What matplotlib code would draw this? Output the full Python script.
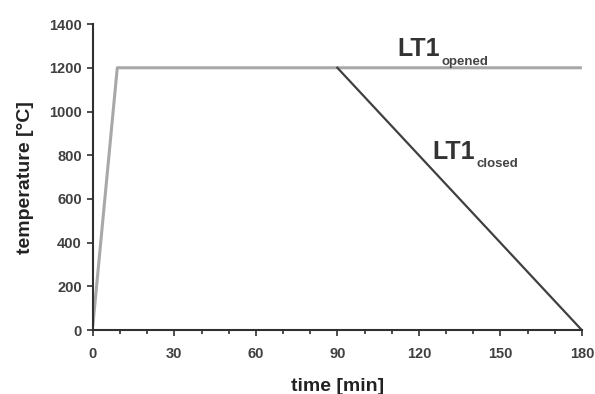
import matplotlib
matplotlib.use("Agg")
import matplotlib.pyplot as plt
from matplotlib.ticker import MultipleLocator

# data
time_opened = [0, 9, 180]
temp_opened = [20, 1200, 1200]
time_closed = [90, 180]
temp_closed = [1200, 0]

plt.rcParams['font.family'] = ['Liberation Sans', 'DejaVu Sans']
plt.rcParams['font.weight'] = 'bold'

fig = plt.figure(figsize=(5.95, 3.94), dpi=100)
ax = fig.add_axes([0.156, 0.162, 0.822, 0.777])

ax.plot(time_opened, temp_opened, color='#a8a8a8', lw=2.2, solid_capstyle='butt')
ax.plot(time_closed, temp_closed, color='#404040', lw=1.6)

ax.set_xlim(0, 180)
ax.set_ylim(0, 1400)
ax.set_xticks([0, 30, 60, 90, 120, 150, 180])
ax.xaxis.set_minor_locator(MultipleLocator(10))
ax.set_yticks(range(0, 1401, 200))

for s in ['top', 'right']:
    ax.spines[s].set_visible(False)
for s in ['left', 'bottom']:
    ax.spines[s].set_color('#303030')
    ax.spines[s].set_linewidth(1.5)

ax.tick_params(which='major', length=4, width=1.2, color='#303030',
               labelsize=10.5, labelcolor='#404040', pad=4)
ax.tick_params(axis='x', which='major', pad=8)
ax.tick_params(which='minor', length=3, width=1.2, color='#303030')

ax.set_xlabel('time [min]', fontsize=14, fontweight='bold', color='#222222', labelpad=12)
ax.set_ylabel('temperature [°C]', fontsize=14, fontweight='bold', color='#222222', labelpad=11)

# curve labels with small subscripts
t1 = ax.text(112, 1252, 'LT1', fontsize=18, fontweight='bold', color='#333333')
ax.annotate('opened', xy=(1, 0), xycoords=t1, xytext=(1, -5),
            textcoords='offset points', fontsize=9.5, fontweight='bold',
            color='#444444', va='bottom')
t2 = ax.text(125, 785, 'LT1', fontsize=18, fontweight='bold', color='#333333')
ax.annotate('closed', xy=(1, 0), xycoords=t2, xytext=(1, -5),
            textcoords='offset points', fontsize=9.5, fontweight='bold',
            color='#444444', va='bottom')

fig.savefig('out.png', dpi=100)
